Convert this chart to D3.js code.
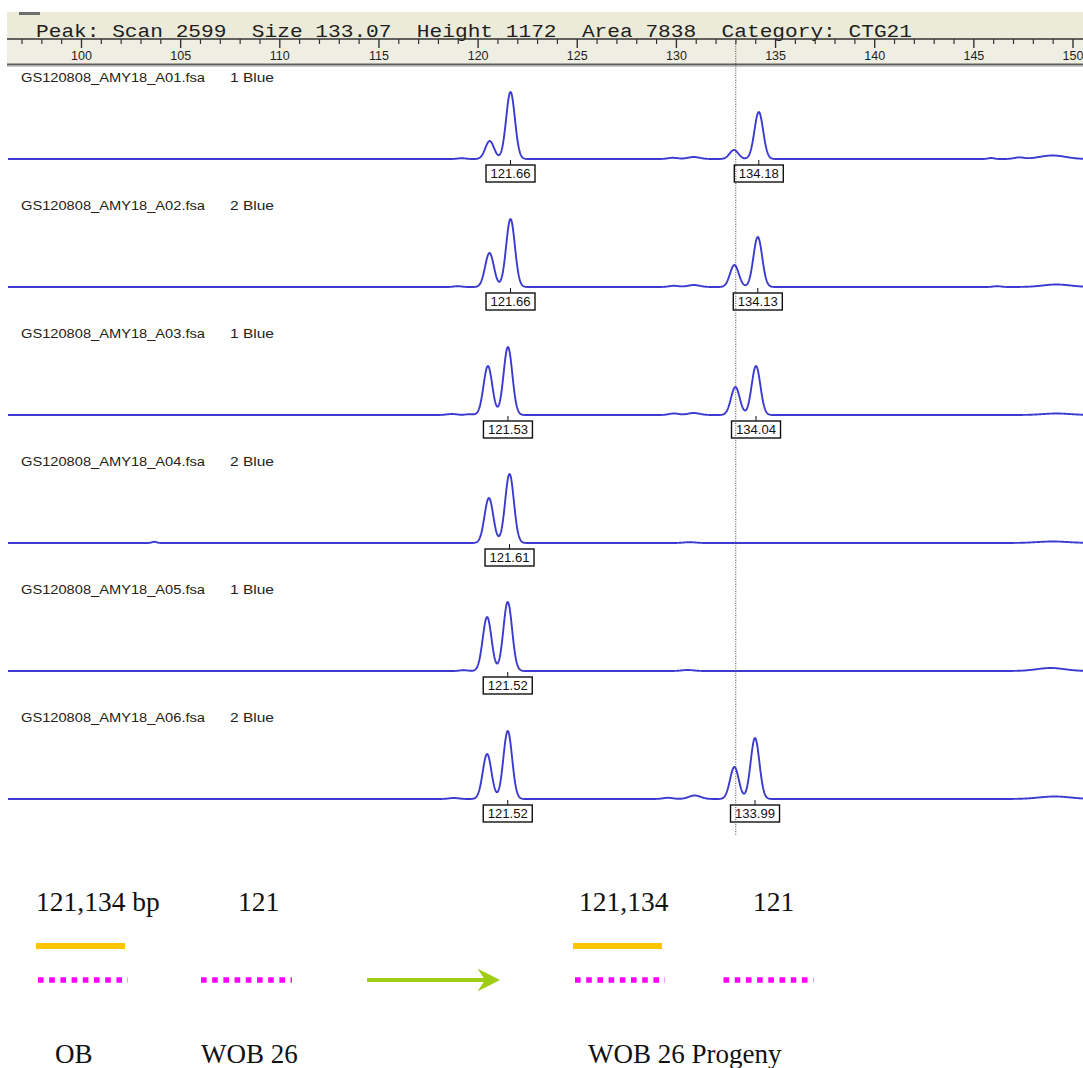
<!DOCTYPE html>
<html>
<head>
<meta charset="utf-8">
<script src="https://cdn.jsdelivr.net/npm/d3@7"></script>
<style>
  html, body { margin: 0; padding: 0; background: #fff; }
  svg { display: block; }
</style>
</head>
<body>
<svg id="chart" width="1083" height="1068"></svg>
<script>
// ---- Data -------------------------------------------------------------
const sampleFiles = [
  "GS120808_AMY18_A01.fsa", "GS120808_AMY18_A02.fsa", "GS120808_AMY18_A03.fsa",
  "GS120808_AMY18_A04.fsa", "GS120808_AMY18_A05.fsa", "GS120808_AMY18_A06.fsa"
];
const dyeLabels = ["1 Blue", "2 Blue", "1 Blue", "2 Blue", "1 Blue", "2 Blue"];

// Called allele sizes (bp) shown in the boxes under each trace
const sizeCalls = [
  [121.66, 134.18], [121.66, 134.13], [121.53, 134.04],
  [121.61], [121.52], [121.52, 133.99]
];

// Peaks in each trace: [size (bp), relative height]
const allelePeaks = [
  [[120.61, 18], [121.66, 67], [132.93, 9], [134.18, 47]],
  [[120.60, 34], [121.66, 68], [132.95, 22], [134.13, 50]],
  [[120.52, 49], [121.53, 68], [133.00, 28], [134.04, 49]],
  [[120.57, 45], [121.61, 69]],
  [[120.48, 54], [121.52, 69]],
  [[120.48, 45], [121.52, 68], [132.95, 32], [133.99, 61]]
];

// Small baseline features: [size (bp), relative height, width (bp)]
const baselineBumps = [
  [[119.2, 0.8, 0.2], [129.85, 1.2, 0.25], [130.9, 2, 0.3], [145.9, 1, 0.15], [147.3, 1.5, 0.25], [149.0, 3.5, 0.65]],
  [[119.0, 0.8, 0.2], [129.9, 1.2, 0.25], [130.9, 2, 0.3], [146.2, 0.8, 0.2], [149.2, 2.5, 0.7]],
  [[118.7, 1, 0.25], [119.6, 0.8, 0.2], [129.9, 1.5, 0.25], [130.9, 2, 0.3], [149.2, 1.5, 0.7]],
  [[103.7, 1.2, 0.12], [130.7, 0.8, 0.3], [149.0, 1.5, 0.8]],
  [[119.3, 0.8, 0.2], [130.6, 1, 0.3], [148.9, 3, 0.7]],
  [[118.8, 1, 0.25], [129.6, 1.2, 0.25], [130.95, 3.5, 0.3], [149.1, 2.5, 0.8]]
];

const sizeTicks = [100, 105, 110, 115, 120, 125, 130, 135, 140, 145, 150];
const cursorSize = 133.07;
const headerFields = ["Peak: Scan 2599", "Size 133.07", "Height 1172", "Area 7838", "Category: CTG21"];

// Genotype key underneath the traces
const genotypeCalls = ["121,134 bp", "121", "121,134", "121"];
const groupNames = ["OB", "WOB 26", "WOB 26 Progeny"];

// ---- Layout -----------------------------------------------------------
const W = 1083, H = 1068;
const plotLeft = 7, plotRight = W;
const axisY = 39;
const firstLabelY = 77, trackStep = 128, baselineOffset = 82;
const peakSigma = 0.22;
const traceColor = "#3b3bcf";

const svg = d3.select("#chart");
svg.append("rect").attr("width", W).attr("height", H).attr("fill", "#fff");

const x = d3.scaleLinear().domain([100, 150]).range([81, 1072.5]);
const sizeMin = x.invert(plotLeft + 1), sizeMax = x.invert(plotRight + 1);

svg.append("defs").append("clipPath").attr("id", "plotClip")
  .append("rect").attr("x", plotLeft).attr("y", 0).attr("width", plotRight - plotLeft).attr("height", H);

// ---- Header bar with the size ruler ----------------------------------
const header = svg.append("g");
header.append("rect").attr("x", plotLeft).attr("y", 12).attr("width", W - plotLeft).attr("height", 53)
  .attr("fill", "#efeee2");
header.append("rect").attr("x", plotLeft).attr("y", 12).attr("width", W - plotLeft).attr("height", 27)
  .attr("fill", "#ecebda");
header.append("rect").attr("x", 19).attr("y", 12).attr("width", 21).attr("height", 3).attr("fill", "#6e6e6e");

header.append("text")
  .attr("x", 36).attr("y", 37)
  .attr("font-family", "'Liberation Mono', 'DejaVu Sans Mono', monospace")
  .attr("font-size", 19)
  .attr("fill", "#1e1e1e")
  .attr("textLength", 876)
  .attr("lengthAdjust", "spacingAndGlyphs")
  .style("white-space", "pre")
  .text(headerFields.join("  "));

const minorTicks = d3.range(Math.ceil(sizeMin), Math.floor(sizeMax) + 1, 1)
  .filter(v => !sizeTicks.includes(v));

const minorAxis = header.append("g").attr("transform", `translate(0,${axisY})`)
  .call(d3.axisBottom(x).tickValues(minorTicks).tickSize(5).tickFormat(""));
minorAxis.select(".domain").remove();
minorAxis.selectAll("line").attr("stroke", "#333").attr("stroke-width", 1.2);

const majorAxis = header.append("g").attr("transform", `translate(0,${axisY})`)
  .call(d3.axisBottom(x).tickValues(sizeTicks).tickSize(9).tickPadding(3).tickFormat(d3.format("d")));
majorAxis.select(".domain").remove();
majorAxis.selectAll("line").attr("stroke", "#333").attr("stroke-width", 1.4);
majorAxis.selectAll("text")
  .attr("font-family", "'Liberation Sans', Arial, sans-serif")
  .attr("font-size", 12.5).attr("fill", "#1e1e1e");

header.append("line").attr("x1", plotLeft).attr("x2", W).attr("y1", axisY).attr("y2", axisY)
  .attr("stroke", "#333").attr("stroke-width", 1.6);
header.append("line").attr("x1", plotLeft).attr("x2", W).attr("y1", 64.5).attr("y2", 64.5)
  .attr("stroke", "#5d5d5d").attr("stroke-width", 2);
header.append("line").attr("x1", plotLeft).attr("x2", W).attr("y1", 66.5).attr("y2", 66.5)
  .attr("stroke", "#c8c8c8").attr("stroke-width", 1);

// ---- Traces -------------------------------------------------------
const sampleSizes = d3.range(sizeMin, sizeMax, 0.02);

function traceHeight(size, peaks, bumps) {
  let h = 0;
  for (const [s, a] of peaks) h += a * Math.exp(-((size - s) ** 2) / (2 * peakSigma * peakSigma));
  for (const [s, a, w] of bumps) h += a * Math.exp(-((size - s) ** 2) / (2 * w * w));
  return h;
}

sampleFiles.forEach((file, i) => {
  const labelY = firstLabelY + i * trackStep;
  const base = labelY + baselineOffset;
  const y = d3.scaleLinear().domain([0, 100]).range([base, base - 100]);
  const g = svg.append("g");

  g.append("text").attr("x", 21).attr("y", labelY + 4.5)
    .attr("font-family", "'Liberation Sans', Arial, sans-serif").attr("font-size", 12.5)
    .attr("fill", "#222").attr("textLength", 184).attr("lengthAdjust", "spacingAndGlyphs")
    .text(file);
  g.append("text").attr("x", 230).attr("y", labelY + 4.5)
    .attr("font-family", "'Liberation Sans', Arial, sans-serif").attr("font-size", 12.5)
    .attr("fill", "#222").attr("textLength", 44).attr("lengthAdjust", "spacingAndGlyphs")
    .text(dyeLabels[i]);

  const pts = sampleSizes.map(s => [s, traceHeight(s, allelePeaks[i], baselineBumps[i])]);
  const line = d3.line().x(d => x(d[0])).y(d => y(d[1]));
  g.append("path").datum(pts).attr("d", line)
    .attr("clip-path", "url(#plotClip)")
    .attr("fill", "none").attr("stroke", traceColor).attr("stroke-width", 1.9)
    .attr("stroke-linejoin", "round");

  // size-call boxes
  const calls = g.selectAll("g.call").data(sizeCalls[i]).join("g").attr("class", "call")
    .attr("transform", d => `translate(${x(d)},${base})`);
  calls.append("line").attr("x1", 0).attr("x2", 0).attr("y1", 1).attr("y2", 6)
    .attr("stroke", "#111").attr("stroke-width", 1);
  calls.append("rect").attr("x", -24.5).attr("y", 6).attr("width", 49).attr("height", 17)
    .attr("fill", "#fff").attr("stroke", "#111").attr("stroke-width", 1.4);
  calls.append("text").attr("x", 0).attr("y", 19)
    .attr("text-anchor", "middle")
    .attr("font-family", "'Liberation Sans', Arial, sans-serif").attr("font-size", 13)
    .attr("fill", "#111").attr("textLength", 40).attr("lengthAdjust", "spacingAndGlyphs")
    .text(d => d.toFixed(2));
});

// dotted cursor at the selected peak size
svg.append("line")
  .attr("x1", x(cursorSize) - 1).attr("x2", x(cursorSize) - 1)
  .attr("y1", axisY).attr("y2", 836)
  .attr("stroke", "#444").attr("stroke-width", 1).attr("stroke-dasharray", "1,1.4");

// ---- Genotype key -------------------------------------------------------
const serif = "'Liberation Serif', 'Times New Roman', serif";
const key = svg.append("g").attr("font-family", serif).attr("fill", "#111");

const callX = [36, 238, 579, 753];
key.selectAll("text.call").data(genotypeCalls).join("text").attr("class", "call")
  .attr("x", (d, k) => callX[k]).attr("y", 911).attr("font-size", 27.5)
  .style("white-space", "pre")
  .text(d => d);

const solidSegs = [[36, 125], [573, 662]];
key.selectAll("line.solid").data(solidSegs).join("line").attr("class", "solid")
  .attr("x1", d => d[0]).attr("x2", d => d[1]).attr("y1", 946).attr("y2", 946)
  .attr("stroke", "#ffc400").attr("stroke-width", 6);

const dottedSegs = [[38, 128], [201, 292], [575, 665], [723.5, 813.5]];
key.selectAll("line.dotted").data(dottedSegs).join("line").attr("class", "dotted")
  .attr("x1", d => d[0]).attr("x2", d => d[1]).attr("y1", 980).attr("y2", 980)
  .attr("stroke", "#ff00ff").attr("stroke-width", 5.5).attr("stroke-dasharray", "5.6,5.6");

key.append("line").attr("x1", 367).attr("x2", 488).attr("y1", 980).attr("y2", 980)
  .attr("stroke", "#9fcc14").attr("stroke-width", 4);
key.append("path").attr("d", "M500,980 L477.5,968.5 L485,980 L477.5,991.5 Z").attr("fill", "#9fcc14");

const groupX = [55, 201, 588];
key.selectAll("text.group").data(groupNames).join("text").attr("class", "group")
  .attr("x", (d, k) => groupX[k]).attr("y", 1063).attr("font-size", 27)
  .text(d => d);
</script>
</body>
</html>
